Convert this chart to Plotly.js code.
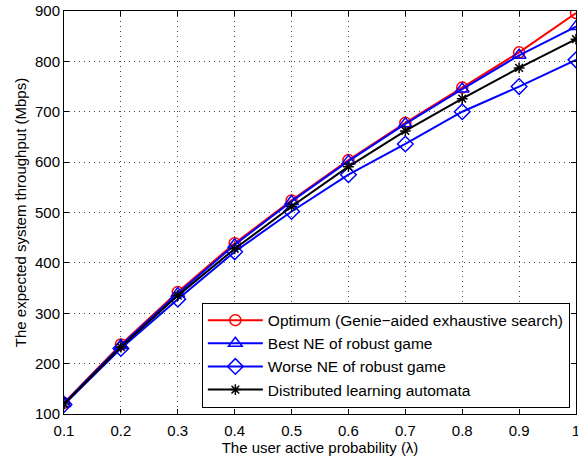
<!DOCTYPE html>
<html>
<head>
<meta charset="utf-8">
<script src="https://cdn.plot.ly/plotly-3.0.1.min.js"></script>
<style>html,body{margin:0;padding:0;background:#fff;}#chart{width:578px;height:460px;}</style>
</head>
<body>
<div id="chart"></div>
<script>
const lambdaVals = [0.1, 0.2, 0.3, 0.4, 0.5, 0.6, 0.7, 0.8, 0.9, 1.0];
const optimum   = [122, 238, 342, 439, 524, 604, 678, 748, 818, 896];
const bestNE    = [121, 236, 339, 436, 522, 602, 676, 745, 812, 869];
const worseNE   = [119, 230, 328, 422, 502, 575, 636, 700, 750, 803];
const learning  = [120, 233, 335, 428, 512, 591, 662, 726, 787, 844];
const seriesNames = [
  "Optimum (Genie\u2212aided exhaustive search)",
  "Best NE of robust game",
  "Worse NE of robust game",
  "Distributed learning automata"
];
const xTicks = [0.1,0.2,0.3,0.4,0.5,0.6,0.7,0.8,0.9,1];
const xTickText = ["0.1","0.2","0.3","0.4","0.5","0.6","0.7","0.8","0.9","1"];
const yTicks = [100,200,300,400,500,600,700,800,900];

const mk = (y, name, color, symbol, size) => ({
  x: lambdaVals, y: y, name: name, type: 'scatter', mode: 'lines+markers',
  line: {color: color, width: 2},
  marker: {symbol: symbol, size: size, color: color, line: {color: color, width: 1.5}}
});

const data = [
  mk(optimum, seriesNames[0], '#ff0000', 'circle-open', 11),
  mk(bestNE, seriesNames[1], '#0000ff', 'triangle-up-open', 12),
  mk(worseNE, seriesNames[2], '#0000ff', 'diamond-open', 12),
  mk(learning, seriesNames[3], '#000000', 'asterisk-open', 9)
];

const axisCommon = {
  showline: true, linecolor: '#000', linewidth: 1, mirror: 'allticks',
  ticks: 'inside', ticklen: 5, tickcolor: '#000',
  showgrid: true, gridcolor: '#444', griddash: '1px,4px', gridwidth: 1,
  zeroline: false, ticklabeloverflow: 'allow',
  tickfont: {family: 'Liberation Sans, Arial, sans-serif', size: 15, color: '#000'}
};

const layout = {
  width: 578, height: 460,
  margin: {l: 64, r: 2, t: 11, b: 46},
  paper_bgcolor: '#fff', plot_bgcolor: '#fff',
  showlegend: true,
  font: {family: 'Liberation Sans, Arial, sans-serif', color: '#000'},
  xaxis: Object.assign({}, axisCommon, {
    range: [0.1, 1], tickvals: xTicks, ticktext: xTickText, ticklabelstandoff: 3,
    title: {text: 'The user active probability (\u03bb)', font: {size: 15}, standoff: 1}
  }),
  yaxis: Object.assign({}, axisCommon, {
    range: [100, 900], tickvals: yTicks,
    title: {text: 'The expected system throughput (Mbps)', font: {size: 15}, standoff: 4}
  }),
  legend: {
    x: 0.988, y: 0.016, xanchor: 'right', yanchor: 'bottom',
    bgcolor: '#fff', bordercolor: '#000', borderwidth: 1,
    font: {size: 15.5, color: '#000'},
    tracegroupgap: 0, itemwidth: 55
  }
};

Plotly.newPlot('chart', data, layout, {displayModeBar: false, staticPlot: true});
</script>
</body>
</html>
